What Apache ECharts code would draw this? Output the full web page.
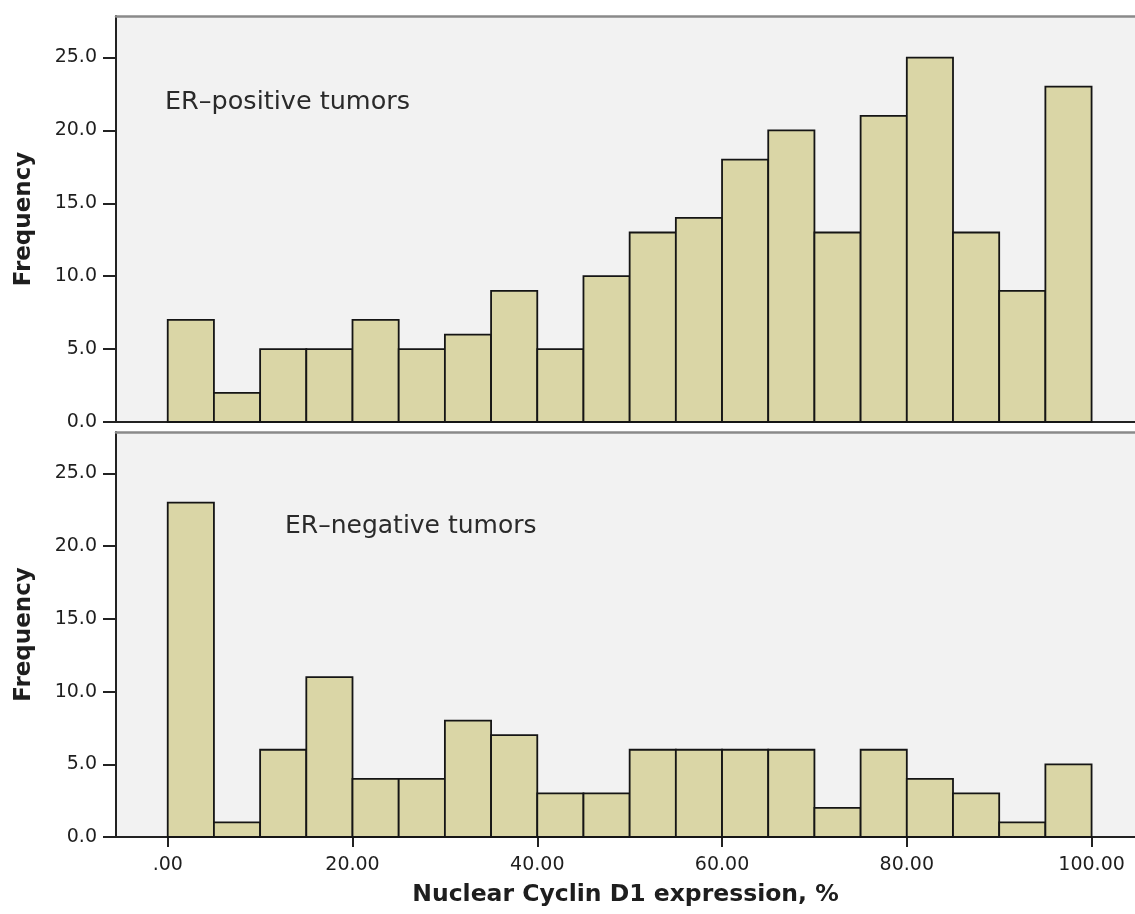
<!DOCTYPE html>
<html>
<head>
<meta charset="utf-8">
<script src="https://cdn.jsdelivr.net/npm/echarts@6/dist/echarts.min.js"></script>
<style>
  html, body { margin: 0; padding: 0; background: #fff; }
  #chart { width: 1135px; height: 914px; }
</style>
</head>
<body>
<div id="chart"></div>
<script>
// bins of 5 %, left edges
const binStarts = [0, 5, 10, 15, 20, 25, 30, 35, 40, 45, 50, 55, 60, 65, 70, 75, 80, 85, 90, 95];
const binWidth = 5;
// frequencies
const erPositive = [7, 2, 5, 5, 7, 5, 6, 9, 5, 10, 13, 14, 18, 20, 13, 21, 25, 13, 9, 23];
const erNegative = [23, 1, 6, 11, 4, 4, 8, 7, 3, 3, 6, 6, 6, 6, 2, 6, 4, 3, 1, 5];
const xTicks = [0, 20, 40, 60, 80, 100];
const yTicks = [0, 5, 10, 15, 20, 25];

const FONT = 'DejaVu Sans';
const TXT = '#1e1e1e';
const BAR_FILL = '#dad6a6';

function toBins(freqs) {
  return binStarts.map((s, i) => [s, s + binWidth, freqs[i]]);
}

//画直方图的矩形
function renderBin(params, api) {
  const p0 = api.coord([api.value(0), 0]);
  const p1 = api.coord([api.value(1), api.value(2)]);
  return {
    type: 'rect',
    shape: { x: p0[0], y: p1[1], width: p1[0] - p0[0], height: p0[1] - p1[1] },
    style: { fill: BAR_FILL, stroke: '#151515', lineWidth: 1.8 }
  };
}

function xAxisFor(gridIndex, withLabels) {
  return {
    type: 'value', gridIndex: gridIndex, min: -5.6, max: 104.7,
    axisLine: { show: true, onZero: false, lineStyle: { color: '#222', width: 2 } },
    axisTick: withLabels ? { show: true, length: 10, customValues: xTicks, lineStyle: { color: '#222', width: 2 } } : { show: false },
    axisLabel: withLabels ? {
      show: true, customValues: xTicks, margin: 19, color: TXT, fontFamily: FONT, fontSize: 19,
      formatter: v => v === 0 ? '.00' : v.toFixed(2)
    } : { show: false },
    splitLine: { show: false },
    name: withLabels ? 'Nuclear Cyclin D1 expression, %' : '',
    nameLocation: 'middle', nameGap: 46,
    nameTextStyle: { color: TXT, fontFamily: FONT, fontSize: 23.5, fontWeight: 'bold' }
  };
}

// 面板上边框
function topBorderAxis(gridIndex) {
  return {
    type: 'value', gridIndex: gridIndex, position: 'top', min: -5.6, max: 104.7,
    axisLine: { show: true, onZero: false, lineStyle: { color: '#8a8a8a', width: 2.5 } },
    axisTick: { show: false }, axisLabel: { show: false }, splitLine: { show: false }
  };
}

function yAxisFor(gridIndex) {
  return {
    type: 'value', gridIndex: gridIndex, min: 0, max: 27.85,
    axisLine: { show: true, onZero: false, lineStyle: { color: '#222', width: 2 } },
    axisTick: { show: true, length: 13, customValues: yTicks, lineStyle: { color: '#222', width: 2 } },
    axisLabel: {
      customValues: yTicks, margin: 19, color: TXT, fontFamily: FONT, fontSize: 19,
      formatter: v => v.toFixed(1)
    },
    splitLine: { show: false },
    name: 'Frequency', nameLocation: 'middle', nameGap: 80, nameRotate: 90,
    nameTextStyle: { color: TXT, fontFamily: FONT, fontSize: 23, fontWeight: 'bold' }
  };
}

const chart = echarts.init(document.getElementById('chart'), null, { renderer: 'canvas' });
chart.setOption({
  animation: false,
  backgroundColor: '#fff',
  title: [
    { text: 'ER\u2013positive tumors', left: 160, top: 84,
      textStyle: { color: '#2a2a2a', fontFamily: FONT, fontSize: 25.5, fontWeight: 'normal' } },
    { text: 'ER\u2013negative tumors', left: 280, top: 509,
      textStyle: { color: '#2a2a2a', fontFamily: FONT, fontSize: 25, fontWeight: 'normal' } }
  ],
  grid: [
    { left: 116, top: 16, right: 0, height: 406, show: true, backgroundColor: '#f2f2f2', borderWidth: 0 },
    { left: 116, top: 432, right: 0, height: 405, show: true, backgroundColor: '#f2f2f2', borderWidth: 0 }
  ],
  xAxis: [xAxisFor(0, false), xAxisFor(1, true), topBorderAxis(0), topBorderAxis(1)],
  yAxis: [yAxisFor(0), yAxisFor(1)],
  series: [
    { type: 'custom', xAxisIndex: 0, yAxisIndex: 0, renderItem: renderBin, data: toBins(erPositive), encode: { x: [0, 1], y: 2 } },
    { type: 'custom', xAxisIndex: 1, yAxisIndex: 1, renderItem: renderBin, data: toBins(erNegative), encode: { x: [0, 1], y: 2 } }
  ]
});
</script>
</body>
</html>
